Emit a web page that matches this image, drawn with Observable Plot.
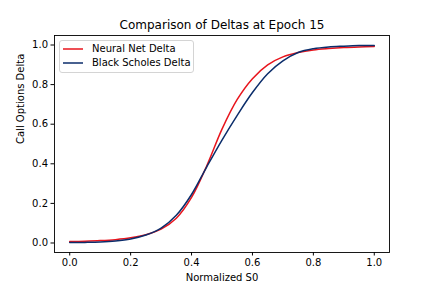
<!DOCTYPE html>
<html><head><meta charset="utf-8">
<script src="https://cdn.jsdelivr.net/npm/d3@7"></script>
<script src="https://cdn.jsdelivr.net/npm/@observablehq/plot@0.6"></script>
<style>
body{margin:0;background:#fff;}
#wrap{position:relative;width:432px;height:288px;font-family:"DejaVu Sans",sans-serif;}
#legend{position:absolute;left:59px;top:40px;width:135px;height:33px;border:1px solid #d4d4d4;border-radius:3px;background:rgba(255,255,255,0.8);box-sizing:border-box;font-size:10px;color:#000;}
#legend .row{position:absolute;left:0;height:14px;line-height:14px;white-space:nowrap;}
#legend svg{position:absolute;left:2px;top:0;}
#legend span{position:absolute;left:32px;top:0;}
</style></head>
<body><div id="wrap"><div id="legend"></div></div>
<script>
const xs = [0.00,0.05,0.10,0.15,0.20,0.25,0.30,0.35,0.40,0.45,0.50,0.55,0.60,0.65,0.70,0.75,0.80,0.85,0.90,0.95,1.00];
const neuralNet = [0.007,0.009,0.012,0.017,0.026,0.042,0.070,0.125,0.230,0.390,0.575,0.725,0.830,0.900,0.940,0.962,0.975,0.982,0.987,0.990,0.992];
const blackScholes = [0.002,0.003,0.005,0.010,0.020,0.040,0.075,0.140,0.245,0.385,0.520,0.645,0.760,0.855,0.920,0.962,0.981,0.990,0.994,0.997,0.998];
const seriesNames = ["Neural Net Delta","Black Scholes Delta"];
const seriesColors = ["#e8141c","#0b2d6b"];
const xTicks = [0,0.2,0.4,0.6,0.8,1.0];
const yTicks = [0,0.2,0.4,0.6,0.8,1.0];
const title = "Comparison of Deltas at Epoch 15";
const xLabel = "Normalized S0";
const yLabel = "Call Options Delta";

const rows = [
  ...xs.map((x,i)=>({x, y:neuralNet[i], s:seriesNames[0]})),
  ...xs.map((x,i)=>({x, y:blackScholes[i], s:seriesNames[1]}))
];

const plot = Plot.plot({
  width:432, height:288,
  marginLeft:54, marginRight:43, marginTop:35, marginBottom:36,
  style:{fontFamily:"DejaVu Sans, sans-serif", fontSize:"10px", color:"#000", background:"#fff", overflow:"visible"},
  x:{domain:[-0.05,1.05]},
  y:{domain:[-0.048,1.048]},
  color:{domain:seriesNames, range:seriesColors},
  marks:[
    Plot.axisX({ticks:xTicks, tickFormat:d3.format(".1f"), tickSize:3.5, tickPadding:3, label:null, fontSize:10, stroke:"#000"}),
    Plot.axisY({ticks:yTicks, tickFormat:d3.format(".1f"), tickSize:3.5, tickPadding:3, label:null, fontSize:10, stroke:"#000"}),
    Plot.line(rows, {x:"x", y:"y", stroke:"s", z:"s", strokeWidth:1.5, curve:"catmull-rom"}),
    Plot.frame({stroke:"#000", strokeWidth:0.9}),
    Plot.text([title], {frameAnchor:"top", dy:-10, lineAnchor:"middle", fontSize:12, text:d=>d, fill:"#000"}),
    Plot.text([xLabel], {frameAnchor:"bottom", dy:25, lineAnchor:"middle", fontSize:10, text:d=>d, fill:"#000"}),
    Plot.text([yLabel], {frameAnchor:"left", dx:-34, lineAnchor:"middle", rotate:-90, fontSize:10, text:d=>d, fill:"#000"})
  ]
});
document.getElementById("wrap").prepend(plot);

const legend = document.getElementById("legend");
seriesNames.forEach((name,i)=>{
  const row = document.createElement("div");
  row.className = "row";
  row.style.top = (1 + i*14.4) + "px";
  row.innerHTML = `<svg width="22" height="14"><line x1="1" x2="21" y1="7" y2="7" stroke="${seriesColors[i]}" stroke-width="1.5"/></svg><span>${name}</span>`;
  legend.appendChild(row);
});
</script>
</body></html>
